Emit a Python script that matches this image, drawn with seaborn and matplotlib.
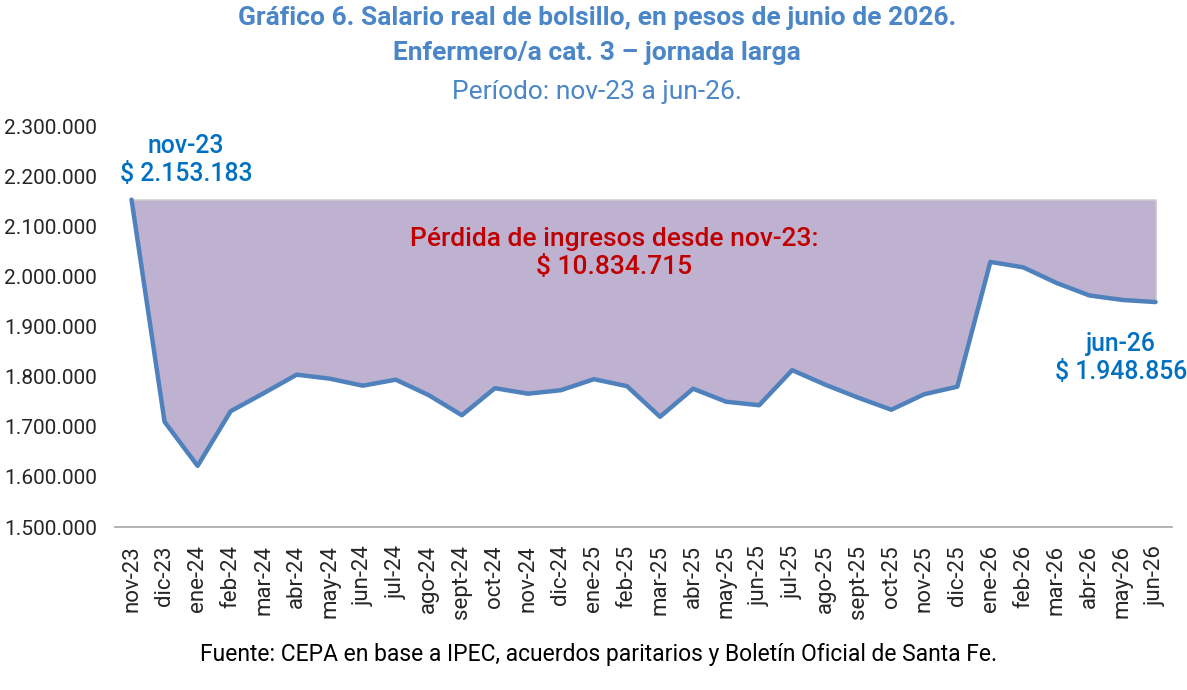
import matplotlib
matplotlib.use("Agg")
import matplotlib.pyplot as plt
import seaborn as sns
import pandas as pd
import numpy as np

months = ["nov-23", "dic-23", "ene-24", "feb-24", "mar-24", "abr-24", "may-24", "jun-24",
          "jul-24", "ago-24", "sept-24", "oct-24", "nov-24", "dic-24", "ene-25", "feb-25",
          "mar-25", "abr-25", "may-25", "jun-25", "jul-25", "ago-25", "sept-25", "oct-25",
          "nov-25", "dic-25", "ene-26", "feb-26", "mar-26", "abr-26", "may-26", "jun-26"]
salario = [2153183, 1710000, 1622000, 1731000, 1767000, 1804000, 1796000, 1782000,
           1794000, 1763000, 1723000, 1777000, 1766000, 1773000, 1795000, 1781000,
           1720000, 1776000, 1750000, 1743000, 1813000, 1784000, 1758000, 1734000,
           1765000, 1780000, 2029000, 2018000, 1987000, 1962000, 1953000, 1948856]
y_ticks = [1500000, 1600000, 1700000, 1800000, 1900000, 2000000, 2100000, 2200000, 2300000]

df = pd.DataFrame({"pos": np.arange(len(months)), "mes": months, "salario": salario})
base = salario[0]

sns.set_style("white")
plt.rcParams["font.family"] = ["Roboto", "DejaVu Sans"]

fig = plt.figure(figsize=(11.87, 6.90), dpi=100)
ax = fig.add_axes([0.0969, 0.2362, 0.8905, 0.5811])

# area de perdida entre el nivel de nov-23 y la serie
ax.fill_between(df["pos"], df["salario"], base, facecolor="#BFB1D0",
                edgecolor="#C8C8C8", linewidth=1.2, zorder=1)
sns.lineplot(data=df, x="pos", y="salario", ax=ax, color="#4F81BD",
             linewidth=3.2, zorder=3)

ax.set_xlim(-0.5, len(months) - 0.5)
ax.set_ylim(1500000, 2300000)
ax.set_yticks(y_ticks)
ax.set_yticklabels([f"{v:,.0f}".replace(",", ".") for v in y_ticks], fontsize=15)
ax.set_xticks(df["pos"])
ax.set_xticklabels(months, rotation=90, fontsize=16)
ax.set_xticks(np.arange(-0.5, len(months)), minor=True)
ax.tick_params(axis="x", which="major", length=0, pad=13)
ax.tick_params(axis="x", which="minor", length=7, color="#A6A6A6", width=1.2, direction="out")
ax.tick_params(axis="y", length=0, pad=13)
ax.set_xlabel("")
ax.set_ylabel("")
for s in ["left", "top", "right"]:
    ax.spines[s].set_visible(False)
ax.spines["bottom"].set_color("#A6A6A6")
ax.spines["bottom"].set_linewidth(1.2)
ax.grid(False)

blue = "#0070C0"
ax.text(1.65, 2232000, "nov-23\n$ 2.153.183", ha="center", va="center", fontsize=17.8,
        color=blue, fontweight="medium", linespacing=1.2)
ax.text(29.95, 1837000, "jun-26\n$ 1.948.856", ha="center", va="center", fontsize=17.8,
        color=blue, fontweight="medium", linespacing=1.2)
ax.text(14.6, 2046000, "Pérdida de ingresos desde nov-23:\n$ 10.834.715", ha="center",
        va="center", fontsize=19, color="#C00000", fontweight="medium", linespacing=1.2)

tcol = "#4A86C8"
fig.text(0.503, 0.974, "Gráfico 6. Salario real de bolsillo, en pesos de junio de 2026.",
         ha="center", va="center", fontsize=19, fontweight="bold", color=tcol)
fig.text(0.503, 0.923, "Enfermero/a cat. 3 – jornada larga",
         ha="center", va="center", fontsize=19, fontweight="bold", color=tcol)
fig.text(0.503, 0.867, "Período: nov-23 a jun-26.",
         ha="center", va="center", fontsize=19, color=tcol)
fig.text(0.504, 0.051, "Fuente: CEPA en base a IPEC, acuerdos paritarios y Boletín Oficial de Santa Fe.",
         ha="center", va="center", fontsize=16.5, color="black")

fig.savefig("out.png", dpi=100)
